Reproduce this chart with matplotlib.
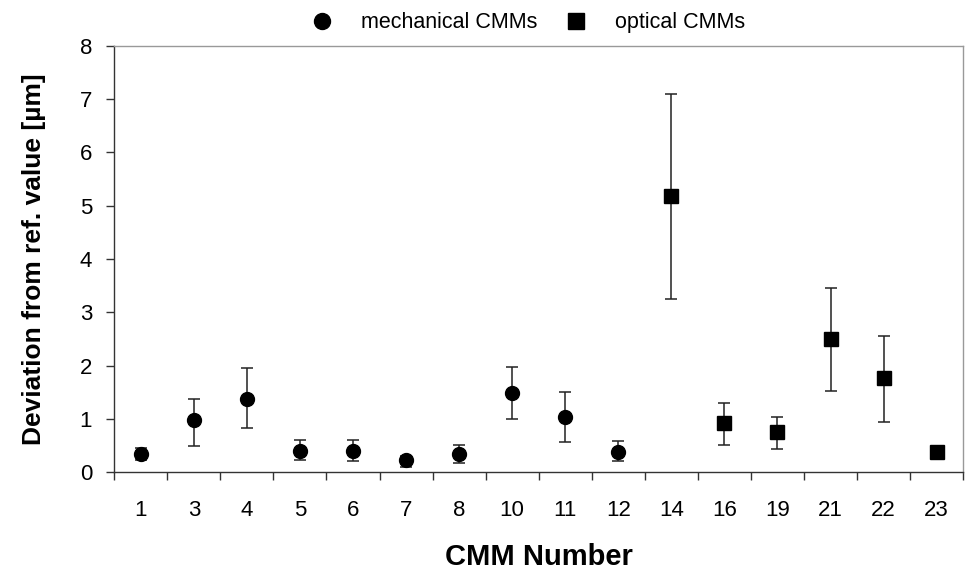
import matplotlib
matplotlib.use("Agg")
import matplotlib.pyplot as plt
import numpy as np

plt.rcParams['font.family'] = ['Liberation Sans', 'DejaVu Sans']

cmm_labels = ["1", "3", "4", "5", "6", "7", "8", "10", "11", "12",
              "14", "16", "19", "21", "22", "23"]

mech_labels = ["1", "3", "4", "5", "6", "7", "8", "10", "11", "12"]
mech_values = [0.35, 0.97, 1.38, 0.40, 0.40, 0.22, 0.35, 1.49, 1.04, 0.38]
mech_upper = [0.46, 1.38, 1.95, 0.61, 0.61, 0.31, 0.51, 1.97, 1.50, 0.58]
mech_lower = [0.23, 0.49, 0.83, 0.22, 0.20, 0.10, 0.17, 1.00, 0.56, 0.20]

opt_labels = ["14", "16", "19", "21", "22", "23"]
opt_values = [5.18, 0.92, 0.76, 2.49, 1.77, 0.38]
opt_upper = [7.10, 1.29, 1.04, 3.45, 2.55, 0.45]
opt_lower = [3.25, 0.51, 0.43, 1.53, 0.95, 0.24]

fig = plt.figure(figsize=(9.68, 5.73), dpi=100)
ax = fig.add_axes([0.118, 0.176, 0.877, 0.744])

pos = {lab: i for i, lab in enumerate(cmm_labels)}
mx = np.array([pos[l] for l in mech_labels])
ox = np.array([pos[l] for l in opt_labels])
mv = np.array(mech_values)
ov = np.array(opt_values)
merr = [mv - np.array(mech_lower), np.array(mech_upper) - mv]
oerr = [ov - np.array(opt_lower), np.array(opt_upper) - ov]

ax.errorbar(mx, mv, yerr=merr, fmt='o', color='black', ecolor='#222222',
            markersize=10, elinewidth=1.1, capsize=4.3, capthick=1.1,
            label='mechanical CMMs', zorder=3)
ax.errorbar(ox, ov, yerr=oerr, fmt='s', color='black', ecolor='#222222',
            markersize=10, elinewidth=1.1, capsize=4.3, capthick=1.1,
            label='optical CMMs', zorder=3)

ax.set_xlim(-0.5, len(cmm_labels) - 0.5)
ax.set_ylim(0, 8)
ax.set_yticks(range(0, 9))
ax.tick_params(axis='y', direction='out', length=6, width=1, labelsize=16,
               color='#333333', pad=10)
ax.set_xticks(np.arange(len(cmm_labels)))
ax.set_xticklabels(cmm_labels)
ax.set_xticks(np.arange(-0.5, len(cmm_labels)), minor=True)
ax.tick_params(axis='x', which='major', length=0, labelsize=16, pad=20)
ax.tick_params(axis='x', which='minor', direction='out', length=6, width=1,
               color='#333333')

for s in ['left', 'bottom']:
    ax.spines[s].set_color('#333333')
    ax.spines[s].set_linewidth(1.0)
for s in ['top', 'right']:
    ax.spines[s].set_color('#999999')
    ax.spines[s].set_linewidth(1.0)

ax.set_ylabel('Deviation from ref. value [µm]', fontsize=19, fontweight='bold',
              labelpad=24)
ax.set_xlabel('CMM Number', fontsize=21, fontweight='bold', labelpad=16)

handles, labels = ax.get_legend_handles_labels()
handles = [h[0] for h in handles]
fig.legend(handles, labels, loc='upper center', bbox_to_anchor=(528 / 968, 1.012),
           ncol=2, frameon=False, fontsize=15.5, handletextpad=1.3,
           columnspacing=1.3, handlelength=1.0, markerscale=1.15)

fig.savefig('out.png', dpi=100)
